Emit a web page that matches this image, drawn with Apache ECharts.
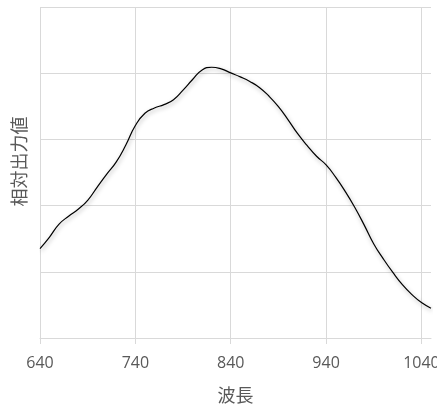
<!DOCTYPE html>
<html>
<head>
<meta charset="utf-8">
<script src="https://cdn.jsdelivr.net/npm/echarts@6/dist/echarts.min.js"></script>
<style>html,body{margin:0;padding:0;background:#fff}#c{width:437px;height:410px}</style>
</head>
<body>
<div id="c"></div>
<script>
const wavelengths = [640,650,660,670,680,690,700,710,720,730,740,750,760,770,780,790,800,810,820,830,840,850,860,870,880,890,900,910,920,930,940,950,960,970,980,990,1000,1010,1020,1030,1040,1050];
const relOutput = [0.270,0.305,0.344,0.368,0.389,0.416,0.456,0.495,0.532,0.583,0.642,0.679,0.695,0.705,0.720,0.749,0.781,0.810,0.818,0.813,0.801,0.789,0.775,0.757,0.731,0.699,0.660,0.618,0.582,0.549,0.523,0.486,0.443,0.395,0.341,0.284,0.239,0.198,0.161,0.131,0.107,0.090];
const xTicks = [640,740,840,940,1040];
const xName = '波長';
const yName = '相対出力値';

const grid = '#d9d9d9';
const font = '"Open Sans", "Noto Sans CJK JP", sans-serif';
const chart = echarts.init(document.getElementById('c'));
chart.setOption({
  animation: false,
  grid: {left: 40, right: 6, top: 7, bottom: 72, outerBoundsMode: 'none', containLabel: false},
  xAxis: {
    type: 'value', min: 640, max: 1050, interval: 100,
    name: xName, nameLocation: 'middle', nameGap: 50,
    nameTextStyle: {color: '#595959', fontSize: 18, fontFamily: font},
    axisLine: {show: true, lineStyle: {color: grid}},
    axisTick: {show: true, length: 6, lineStyle: {color: grid}, customValues: xTicks},
    axisLabel: {color: '#595959', fontSize: 16, fontFamily: font, margin: 17, customValues: xTicks, formatter: v => String(v)},
    splitLine: {show: true, lineStyle: {color: [grid, grid, grid, grid, grid, 'rgba(0,0,0,0)']}}
  },
  yAxis: {
    type: 'value', min: 0, max: 1, interval: 0.2,
    name: yName, nameLocation: 'middle', nameGap: 10,
    nameTextStyle: {color: '#595959', fontSize: 18, fontFamily: font, padding: [0,0,0,22]},
    axisLine: {show: false}, axisTick: {show: false}, axisLabel: {show: false},
    splitLine: {show: true, lineStyle: {color: grid}}
  },
  series: [{
    type: 'line', smooth: 0.5, showSymbol: false,
    data: wavelengths.map((w, i) => [w, relOutput[i]]),
    lineStyle: {color: '#000', width: 1.2, shadowColor: 'rgba(0,0,0,0.35)', shadowBlur: 4, shadowOffsetX: 1, shadowOffsetY: 2}
  }]
});
</script>
</body>
</html>
